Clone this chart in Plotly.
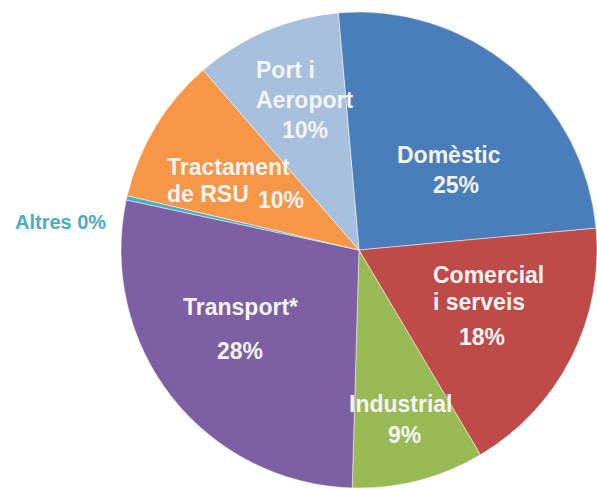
import plotly.graph_objects as go

# Data (clockwise from 12 o'clock)
categories = ["Domèstic", "Comercial i serveis", "Industrial", "Transport*", "Altres", "Tractament de RSU", "Port i Aeroport"]
values = [25, 18, 9, 28, 0.3, 10, 10]
pct_labels = ["25%", "18%", "9%", "28%", "0%", "10%", "10%"]
colors = ["#4A7EBB", "#BE4B48", "#98B954", "#7D5FA3", "#4BACC6", "#F79646", "#A5BFDD"]

W, H = 597, 489
cx, cy, r = 359, 250, 238

fig = go.Figure(go.Pie(
    labels=categories,
    values=values,
    sort=False,
    direction="clockwise",
    rotation=-5,
    textinfo="none",
    hoverinfo="label+percent",
    marker=dict(colors=colors, line=dict(color="rgba(255,255,255,0.6)", width=0.8)),
    domain=dict(x=[(cx - r) / W, min(1.0, (cx + r) / W)],
                y=[1 - (cy + r) / H, 1 - (cy - r) / H]),
    showlegend=False,
))

# label text lines: (text, x_px, y_px, xanchor, color, size)
WHITE = "#F4F4F4"
FS = 23
label_lines = [
    ("Domèstic", 449, 155, "center", WHITE, FS),
    (pct_labels[0], 456, 185, "center", WHITE, FS),
    ("Comercial", 431, 275, "left", WHITE, FS),
    ("i serveis", 431, 302, "left", WHITE, FS),
    (pct_labels[1], 482, 337, "center", WHITE, FS),
    ("Industrial", 401, 404, "center", WHITE, FS),
    (pct_labels[2], 404, 435, "center", WHITE, FS),
    ("Transport*", 240, 307, "center", WHITE, FS),
    (pct_labels[3], 240, 351, "center", WHITE, FS),
    ("Altres " + pct_labels[4], 60, 222, "center", "#4BACC6", 20),
    ("Tractament", 165, 167, "left", WHITE, FS),
    ("de RSU", 165, 194, "left", WHITE, FS),
    (pct_labels[5], 281, 200, "center", WHITE, FS),
    ("Port i", 254, 70, "left", WHITE, FS),
    ("Aeroport", 254, 100, "left", WHITE, FS),
    (pct_labels[6], 305, 130, "center", WHITE, FS),
]

annotations = []
for text, x, y, xa, col, sz in label_lines:
    annotations.append(dict(
        text=text, x=x / W, y=1 - y / H, xref="paper", yref="paper",
        xanchor=xa, yanchor="middle", showarrow=False,
        font=dict(family="Liberation Sans, Arial, sans-serif", size=sz, color=col, weight="bold"),
    ))

fig.update_layout(
    width=W, height=H,
    margin=dict(l=0, r=0, t=0, b=0),
    paper_bgcolor="white",
    plot_bgcolor="white",
    annotations=annotations,
)

fig.write_html("out.html")
